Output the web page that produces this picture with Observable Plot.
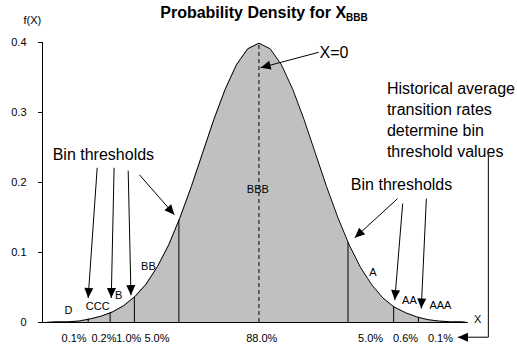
<!DOCTYPE html>
<html>
<head>
<meta charset="utf-8">
<script src="https://cdn.jsdelivr.net/npm/d3@7"></script>
<script src="https://cdn.jsdelivr.net/npm/@observablehq/plot@0.6"></script>
<style>
  html, body { margin: 0; padding: 0; background: #fff; }
  #wrap { position: relative; width: 517px; height: 353px; font-family: "Liberation Sans", Arial, sans-serif; }
  #title { position: absolute; left: 0; width: 528px; top: 4px; text-align: center; font-weight: bold; font-size: 16px; color: #000; z-index: 2; }
  #title span { font-size: 10px; position: relative; top: 3px; }
  #chart { position: absolute; left: 0; top: 0; }
</style>
</head>
<body>
<div id="wrap">
  <div id="title">Probability Density for X<span>BBB</span></div>
  <div id="chart"></div>
</div>
<script>
// density curve
const curveX = [-3.84, -3.8, -3.6, -3.4, -3.2, -3.0, -2.8, -2.6, -2.4, -2.2, -2.0, -1.8, -1.6, -1.4, -1.2, -1.0, -0.8, -0.6, -0.4, -0.2, 0,
  0.2, 0.4, 0.6, 0.8, 1.0, 1.2, 1.4, 1.6, 1.8, 2.0, 2.2, 2.4, 2.6, 2.8, 3.0, 3.2, 3.4, 3.6, 3.7];
const curveY = [0.000, 0.000, 0.001, 0.001, 0.002, 0.005, 0.009, 0.015, 0.024, 0.037, 0.055, 0.080, 0.111, 0.150, 0.194, 0.242, 0.290, 0.333, 0.368, 0.391, 0.399,
  0.391, 0.368, 0.333, 0.290, 0.242, 0.194, 0.150, 0.111, 0.079, 0.054, 0.035, 0.022, 0.014, 0.008, 0.004, 0.002, 0.001, 0.001, 0.000];

// bin thresholds
const thresholdX = [-3.03, -2.64, -2.21, -1.42, 1.58, 2.39, 2.83];
const thresholdY = [0.005, 0.014, 0.036, 0.146, 0.114, 0.023, 0.007];

// rating bins
const ratings = ["D", "CCC", "B", "BB", "BBB", "A", "AA", "AAA"];
const ratingX = [-3.38, -2.86, -2.49, -1.96, -0.02, 2.02, 2.67, 3.22];
const ratingY = [0.017, 0.023, 0.038, 0.080, 0.190, 0.071, 0.031, 0.024];

// transition probabilities
const probLabels = ["0.1%", "0.2%", "1.0%", "5.0%", "88.0%", "5.0%", "0.6%", "0.1%"];
const probX = [-3.28, -2.75, -2.31, -1.81, 0.05, 1.98, 2.60, 3.22];
const probY = -0.023;

// y axis
const yTicks = [0, 0.1, 0.2, 0.3, 0.4];
const yTickLabels = ["0", "0.1", "0.2", "0.3", "0.4"];

// annotations
const centerNotes = [
  {text: "Bin thresholds", x: -2.76, y: 0.239},
  {text: "Bin thresholds", x: 2.53, y: 0.196},
  {text: "X=0", x: 1.33, y: 0.385}
];
const sideNote = [{text: "Historical average\ntransition rates\ndetermine bin\nthreshold values", x: 2.27, y: 0.291}];
const smallLabels = [
  {text: "f(X)", x: -4.02, y: 0.431},
  {text: "X", x: 3.88, y: 0.004}
];
const arrows = [
  {x1: -2.87, y1: 0.221, x2: -3.03, y2: 0.035},
  {x1: -2.57, y1: 0.221, x2: -2.62, y2: 0.035},
  {x1: -2.32, y1: 0.217, x2: -2.27, y2: 0.039},
  {x1: -2.12, y1: 0.211, x2: -1.50, y2: 0.154},
  {x1: 2.46, y1: 0.177, x2: 1.70, y2: 0.121},
  {x1: 2.55, y1: 0.170, x2: 2.41, y2: 0.032},
  {x1: 2.97, y1: 0.177, x2: 2.88, y2: 0.020},
  {x1: 1.06, y1: 0.386, x2: 0.03, y2: 0.364},
  {x1: 4.07, y1: -0.021, x2: 3.53, y2: -0.021}
];
const bracket = [{x1: 4.07, y1: 0.238, x2: 4.07, y2: -0.021}];

const curve = curveX.map((x, i) => ({x, y: curveY[i]}));
const thresholds = thresholdX.map((x, i) => ({x, y: thresholdY[i]}));
const bins = ratings.map((r, i) => ({r, x: ratingX[i], y: ratingY[i]}));
const probs = probLabels.map((p, i) => ({p, x: probX[i], y: probY}));

const font = "Liberation Sans, Arial, sans-serif";

const plot = Plot.plot({
  width: 517,
  height: 353,
  marginTop: 42,
  marginBottom: 31,
  marginLeft: 42,
  marginRight: 50,
  style: {fontFamily: font, fontSize: "11px", background: "white", overflow: "visible"},
  x: {domain: [-3.84, 3.7], axis: null},
  y: {domain: [0, 0.4], ticks: yTicks, tickFormat: d => yTickLabels[yTicks.indexOf(d)], tickSize: 4, tickPadding: 12, label: null},
  marks: [
    Plot.areaY(curve, {x: "x", y: "y", fill: "#c0c0c0"}),
    Plot.line(curve, {x: "x", y: "y", stroke: "black", strokeWidth: 1}),
    Plot.ruleX(thresholds, {x: "x", y1: 0, y2: "y", stroke: "black", strokeWidth: 1}),
    Plot.ruleX([0], {y1: 0, y2: 0.399, stroke: "black", strokeDasharray: "4,3", strokeWidth: 1}),
    Plot.ruleY([0], {stroke: "black"}),
    Plot.ruleX([-3.84], {stroke: "black"}),
    Plot.text(bins, {x: "x", y: "y", text: "r", fontSize: 11, fill: "black"}),
    Plot.text(probs, {x: "x", y: "y", text: "p", fontSize: 11, fill: "black"}),
    Plot.text(smallLabels, {x: "x", y: "y", text: "text", fontSize: 11, fill: "black"}),
    Plot.text(centerNotes, {x: "x", y: "y", text: "text", textAnchor: "middle", fontSize: 16, fill: "black"}),
    Plot.text(sideNote, {x: "x", y: "y", text: "text", textAnchor: "start", fontSize: 16, lineHeight: 1.3, fill: "black"}),
    Plot.link(bracket, {x1: "x1", y1: "y1", x2: "x2", y2: "y2", stroke: "black", strokeWidth: 1}),
    Plot.link(arrows, {x1: "x1", y1: "y1", x2: "x2", y2: "y2", stroke: "black", strokeWidth: 1})
  ]
});

// filled triangular arrowheads on the annotation arrows
const svg = d3.select(plot);
svg.append("defs").append("marker")
  .attr("id", "tri")
  .attr("viewBox", "0 0 10 10")
  .attr("refX", 10).attr("refY", 5)
  .attr("markerWidth", 11).attr("markerHeight", 10)
  .attr("markerUnits", "userSpaceOnUse")
  .attr("orient", "auto")
  .append("path").attr("d", "M0,0.5L10,5L0,9.5Z").attr("fill", "black");
const linkGroups = svg.selectAll('g[aria-label="link"]').nodes();
d3.select(linkGroups[linkGroups.length - 1]).selectAll("path").attr("marker-end", "url(#tri)");
svg.selectAll('g[aria-label="y-axis"] text, g[aria-label="y-axis tick label"] text').attr("font-size", 11);

document.getElementById("chart").appendChild(plot);
</script>
</body>
</html>
